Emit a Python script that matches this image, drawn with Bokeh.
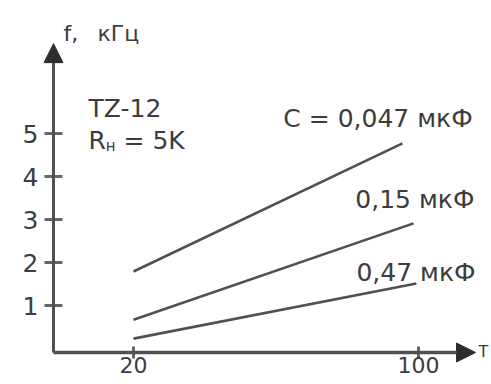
from bokeh.plotting import figure
from bokeh.models import Range1d, Arrow, NormalHead, Label
from bokeh.embed import file_html
from bokeh.resources import INLINE
import math

# ---- data ----
X_TICKS = [20, 100]
X_TICK_LABELS = ["20", "100"]
Y_TICKS = [1, 2, 3, 4, 5]
Y_TICK_LABELS = ["1", "2", "3", "4", "5"]

x_c0047 = [20, 95.5]
f_c0047 = [1.79, 4.77]
x_c015 = [20, 98.6]
f_c015 = [0.67, 2.91]
x_c047 = [20, 99.4]
f_c047 = [0.23, 1.51]

series_labels = ["C = 0,047 мкФ", "0,15 мкФ", "0,47 мкФ"]
y_axis_title = ["f,", "кГц"]
x_axis_title = "T"
device_text = "TZ-12"

# ---- styling / layout ----
FONT = "DejaVu Sans"
TXT = "#3c3c3c"
LINE = "#505050"
TICK = "#666666"

# axis origin and arrow ends (data units)
XA, YA = -2.456, -0.093
X_END, Y_END = 116.0, 7.09

p = figure(width=491, height=384, output_backend="svg", toolbar_location=None,
           x_range=Range1d(-17.33, 120.49), y_range=Range1d(-0.837, 8.093),
           x_axis_location=None, y_axis_location=None,
           min_border=0)
p.outline_line_color = None
p.grid.visible = False
p.background_fill_color = "white"
p.border_fill_color = "white"

# axis arrows
head = dict(size=19, fill_color="#2e2e2e", line_color="#2e2e2e", line_width=1)
p.add_layout(Arrow(x_start=XA, y_start=YA, x_end=XA, y_end=Y_END, line_width=3,
                   line_color=LINE, end=NormalHead(**head)))
p.add_layout(Arrow(x_start=XA, y_start=YA, x_end=X_END, y_end=YA, line_width=3.5,
                   line_color=LINE, end=NormalHead(**head)))

# ticks
p.scatter(x=[XA] * len(Y_TICKS), y=Y_TICKS, marker="dash", size=18,
          line_width=3, line_color=TICK)
p.scatter(x=X_TICKS, y=[YA] * len(X_TICKS), marker="dash", angle=math.pi / 2, size=12,
          line_width=3, line_color=TICK)

# tick labels
p.text(x=[-6.67] * len(Y_TICKS), y=Y_TICKS, text=Y_TICK_LABELS, text_align="right",
       text_baseline="middle", text_font={"value": FONT}, text_font_size="25px", text_color=TXT)
p.text(x=X_TICKS, y=[-0.209] * len(X_TICKS), text=X_TICK_LABELS, text_align="center",
       text_baseline="top", text_font={"value": FONT}, text_font_size="22px", text_color=TXT)

# data lines
for xs, ys in [(x_c0047, f_c0047), (x_c015, f_c015), (x_c047, f_c047)]:
    p.line(xs, ys, line_width=2.6, line_color=LINE)

def lab(x, y, t, size="25px", align="left"):
    p.add_layout(Label(x=x, y=y, text=t, text_font=FONT, text_font_size=size, text_color=TXT,
                       text_align=align, text_baseline="alphabetic"))

# series labels
lab(115.2, 5.35, series_labels[0], align="right")
lab(115.7, 3.47, series_labels[1], align="right")
lab(116.0, 1.77, series_labels[2], align="right")

# device annotation
lab(7.37, 5.58, device_text)
lab(7.37, 4.84, "R")
lab(12.2, 4.70, "н", size="15px")
lab(17.2, 4.84, "= 5K")

# axis titles
lab(0.35, 7.33, y_axis_title[0], size="22px")
lab(9.89, 7.33, y_axis_title[1], size="22px")
lab(116.84, -0.07, x_axis_title, size="16px")

open("out.html", "w").write(file_html(p, INLINE))
